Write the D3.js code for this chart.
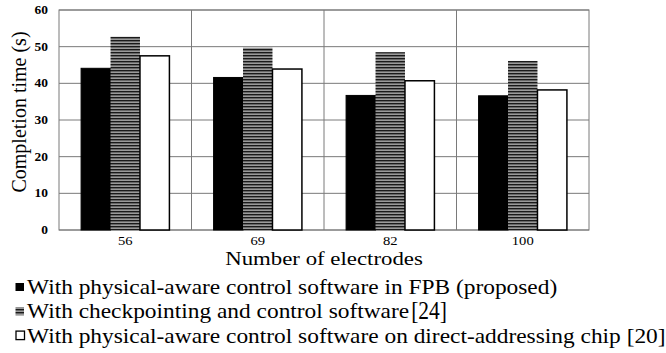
<!DOCTYPE html>
<html>
<head>
<meta charset="utf-8">
<script src="https://cdn.jsdelivr.net/npm/d3@7"></script>
<style>
  body { margin: 0; background: #fff; }
</style>
</head>
<body>
<script>
const categories = ["56", "69", "82", "100"];
const seriesNames = [
    "With physical-aware control software in FPB (proposed)",
    "With checkpointing and control software",
    "With physical-aware control software on direct-addressing chip [20]"
];
const seriesRefs = ["", "[24]", ""];
const fpb = [44.1, 41.6, 36.7, 36.6];
const checkpoint = [52.7, 49.7, 48.5, 46.1];
const direct = [47.5, 43.9, 40.7, 38.2];
const yTicks = [0, 10, 20, 30, 40, 50, 60];

const series = [fpb, checkpoint, direct];
const FONT = "'Liberation Serif'";
// the source image is a bit wider than tall, so text looks stretched
const SX = 1.17;

// plot box inside the 666x353 window
const margin = {top: 10, right: 77, bottom: 123, left: 59},
    width = 666 - margin.left - margin.right,
    height = 353 - margin.top - margin.bottom;

const svg = d3.select("body").append("svg")
    .attr("width", 666)
    .attr("height", 353);

function label(parent, px, py, str, size, anchor, sx) {
    return parent.append("text")
        .attr("transform", "translate(" + px + "," + py + ") scale(" + (sx || SX) + ",1)")
        .attr("text-anchor", anchor || "start")
        .attr("font-family", FONT)
        .attr("font-size", size)
        .attr("fill", "#000")
        .text(str);
}

// striped fill for the checkpointing series
const defs = svg.append("defs");
const pat = defs.append("pattern")
    .attr("id", "stripes")
    .attr("patternUnits", "userSpaceOnUse")
    .attr("width", 4)
    .attr("height", 3);
pat.append("rect").attr("width", 4).attr("height", 3).attr("fill", "#9a9a9a");
pat.append("rect").attr("width", 4).attr("height", 1.4).attr("fill", "#1a1a1a");

const g = svg.append("g")
    .attr("transform", "translate(" + margin.left + "," + margin.top + ")");

const x = d3.scaleBand().domain(categories).range([0, width]);
const x1 = d3.scaleBand().domain([0, 1, 2])
    .range([0, x.bandwidth()]).paddingOuter(0.75);
const y = d3.scaleLinear().domain([0, 60]).range([height, 0]);

// horizontal grid
g.append("g")
    .selectAll("line")
    .data(yTicks)
    .join("line")
    .attr("x1", 0)
    .attr("x2", width)
    .attr("y1", d => y(d))
    .attr("y2", d => y(d))
    .attr("stroke", "#7a7a7a")
    .attr("stroke-width", 1);

// vertical separators between categories
g.append("g")
    .selectAll("line")
    .data(categories.slice(1))
    .join("line")
    .attr("x1", d => x(d))
    .attr("x2", d => x(d))
    .attr("y1", 0)
    .attr("y2", height)
    .attr("stroke", "#7a7a7a");

// plot border
g.append("rect")
    .attr("width", width)
    .attr("height", height)
    .attr("fill", "none")
    .attr("stroke", "#7a7a7a");

const fills = ["#000", "url(#stripes)", "#fff"];

// bars
categories.forEach(function (c, i) {
    series.forEach(function (s, k) {
        g.append("rect")
            .attr("x", x(c) + x1(k))
            .attr("y", y(s[i]))
            .attr("width", x1.bandwidth())
            .attr("height", height - y(s[i]))
            .attr("fill", fills[k])
            .attr("stroke", k === 1 ? "none" : "#000")
            .attr("stroke-width", k === 2 ? 1.5 : 1);
    });
});

// y axis labels
yTicks.forEach(function (d) {
    label(g, -11, y(d) + 4, d, 11.5, "end").attr("font-weight", "bold");
});

// x axis labels
categories.forEach(function (d) {
    label(g, x(d) + x.bandwidth() / 2, height + 15, d, 12.5, "middle");
});

// axis titles
label(svg, 324, 264.5, "Number of electrodes", 19.5, "middle");

svg.append("text")
    .attr("transform", "translate(26,112) rotate(-90)")
    .attr("text-anchor", "middle")
    .attr("font-family", FONT)
    .attr("font-size", 20)
    .text("Completion time (s)");

// legend
const legend = svg.append("g");
seriesNames.forEach(function (name, k) {
    const ly = 294 + k * 24.3;
    legend.append("rect")
        .attr("x", k === 2 ? 16 : 15.5)
        .attr("y", k === 2 ? ly - 11.5 : ly - 11)
        .attr("width", 8.5)
        .attr("height", k === 2 ? 8.5 : 8)
        .attr("fill", fills[k])
        .attr("stroke", k === 2 ? "#000" : "none")
        .attr("stroke-width", 1.3);
    const t = label(legend, 27, ly, name, 20);
    if (seriesRefs[k]) {
        const w = t.node().getComputedTextLength() * SX;
        label(legend, 29 + w, ly + 0.5, seriesRefs[k], 25, "start", 0.86);
    }
});
</script>
</body>
</html>
